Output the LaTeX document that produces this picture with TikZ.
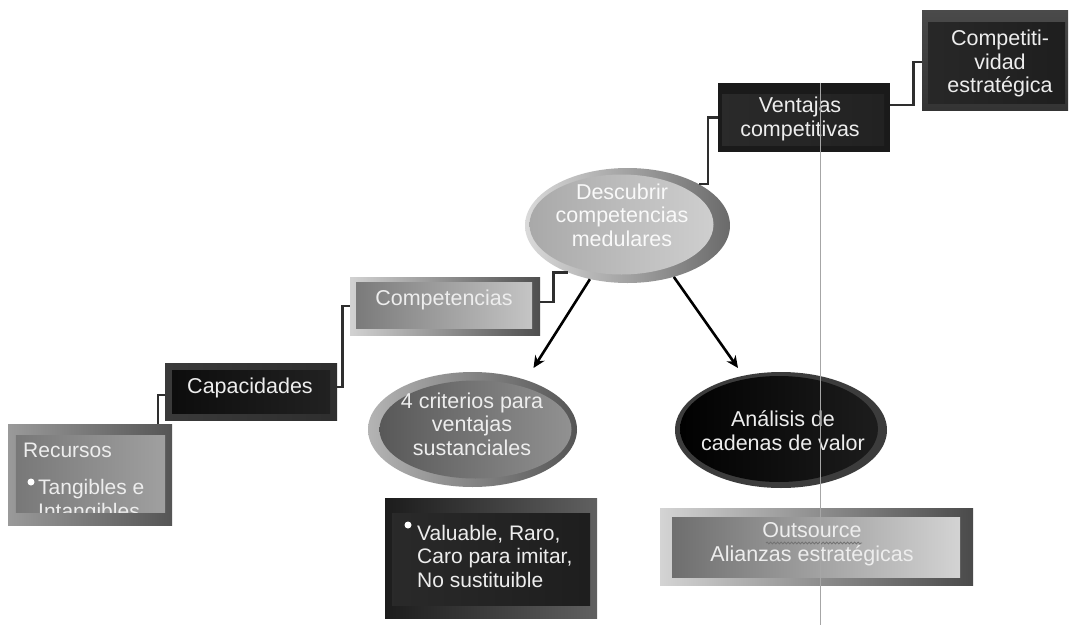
\documentclass[tikz,border=0pt]{standalone}
\usepackage{fontspec}
\setmainfont{Liberation Sans}
\usetikzlibrary{arrows.meta,shapes.geometric,decorations.pathmorphing}
\definecolor{txtc}{HTML}{EDEDED}
\definecolor{recFL}{HTML}{9A9A9A}\definecolor{recFR}{HTML}{555555}
\definecolor{recIL}{HTML}{787878}\definecolor{recIR}{HTML}{A0A0A0}
\definecolor{capF}{HTML}{3A3A3A}\definecolor{capI}{HTML}{222222}
\definecolor{comFL}{HTML}{D2D2D2}\definecolor{comFR}{HTML}{4E4E4E}
\definecolor{comIL}{HTML}{787878}\definecolor{comIR}{HTML}{C8C8C8}
\definecolor{desRL}{HTML}{DADADA}\definecolor{desRR}{HTML}{6A6A6A}
\definecolor{desIL}{HTML}{A8A8A8}\definecolor{desIR}{HTML}{D2D2D2}
\definecolor{venF}{HTML}{1A1A1A}\definecolor{venI}{HTML}{2A2A2A}
\definecolor{ctF}{HTML}{4A4A4A}\definecolor{ctI}{HTML}{282828}
\definecolor{criRL}{HTML}{B4B4B4}\definecolor{criRR}{HTML}{555555}
\definecolor{criIL}{HTML}{555555}\definecolor{criIR}{HTML}{939393}
\definecolor{valF}{HTML}{1C1C1C}\definecolor{valI}{HTML}{2A2A2A}
\definecolor{anaR}{HTML}{3C3C3C}\definecolor{anaI}{HTML}{1E1E1E}
\definecolor{outFL}{HTML}{D4D4D4}\definecolor{outFR}{HTML}{4A4A4A}
\definecolor{outIL}{HTML}{6A6A6A}\definecolor{outIR}{HTML}{D8D8D8}
\tikzset{
  txt/.style={text=txtc, font=\fontsize{21.5}{23.5}\selectfont, align=center, inner sep=0pt},
  txtl/.style={text=txtc, font=\fontsize{21}{23}\selectfont, inner sep=0pt},
  txts/.style={text=txtc, font=\fontsize{21}{23}\selectfont, inner sep=0pt},
  framebox/.style={rectangle, inner sep=0pt, draw=none},
  oval/.style={ellipse, inner sep=0pt, draw=none},
  conn/.style={line width=2.6pt, draw=black!82, line join=miter},
  arr/.style={line width=2.6pt, draw=black, -{Stealth[length=12pt,width=11pt]}},
  bul/.style={circle, fill=white, inner sep=0pt, minimum size=7pt},
}
\begin{document}
\begin{tikzpicture}[x=1pt,y=-1pt]
\useasboundingbox (0,0) rectangle (1072,627);
\fill[white] (0,0) rectangle (1072,627);

% Recursos
\node[framebox, minimum width=164pt, minimum height=101pt, left color=recFL, right color=recFR] (rec) at (90,474.5) {};
\begin{scope}
\clip ([shift={(8pt,-12pt)}]rec.north west) rectangle ([shift={(-7pt,13pt)}]rec.south east);
\shade[left color=recIL, right color=recIR] ([shift={(8pt,-12pt)}]rec.north west) rectangle ([shift={(-7pt,13pt)}]rec.south east);
\node[txtl, anchor=base west] (rect1) at (23,457) {Recursos};
\node[bul] (recb) at (31,482) {};
\node[txtl, anchor=base west] (rect2) at (38,494) {Tangibles e};
\node[txtl, anchor=base west] (rect3) at (38,518) {Intangibles};
\end{scope}

% Capacidades
\node[framebox, minimum width=172pt, minimum height=57pt, left color=capF, right color=capF!80!black,
  path picture={\shade[left color=capI!110, right color=capI] ([shift={(7pt,-7pt)}]path picture bounding box.north west) rectangle ([shift={(-7pt,7pt)}]path picture bounding box.south east);}] (cap) at (251,391.5) {};
\node[txt] (capt) at (250,388) {Capacidades};

% Competencias
\node[framebox, minimum width=190pt, minimum height=58pt, left color=comFL, right color=comFR,
  path picture={\shade[left color=comIL, right color=comIR] ([shift={(6pt,-5pt)}]path picture bounding box.north west) rectangle ([shift={(-8pt,7pt)}]path picture bounding box.south east);}] (comp) at (445,306) {};
\node[txt] (compt) at (444,300) {Competencias};

% Descubrir
\node[oval, minimum width=205pt, minimum height=115pt, left color=desRL, right color=desRR,
  path picture={\shade[left color=desIL, right color=desIR] ([shift={(-6pt,1pt)}]path picture bounding box.center) ellipse [x radius=92pt, y radius=50pt];}] (desc) at (627.5,225.5) {};
\node[txt, text=white!95!gray] (desct) at (622,215) {Descubrir\\competencias\\medulares};

% Ventajas competitivas
\node[framebox, minimum width=172pt, minimum height=69pt, fill=venF,
  path picture={\shade[left color=venI, right color=venI!80!black] ([shift={(4pt,-11pt)}]path picture bounding box.north west) rectangle ([shift={(-6pt,7pt)}]path picture bounding box.south east);}] (vent) at (804,117.5) {};
\node[txt] (ventt) at (800,119) {Ventajas\\competitivas};

% Competitividad estrategica
\node[framebox, minimum width=146pt, minimum height=100pt, top color=ctF, bottom color=ctF!70!black,
  path picture={\shade[left color=ctI, right color=ctI!75!black] ([shift={(6pt,-12pt)}]path picture bounding box.north west) rectangle ([shift={(-3pt,7pt)}]path picture bounding box.south east);}] (ct) at (995,60) {};
\node[txt] (ctt) at (1000,63.5) {Competiti-\\vidad\\estratégica};

% 4 criterios
\node[oval, minimum width=209pt, minimum height=115pt, left color=criRL, right color=criRR,
  path picture={\shade[left color=criIL, right color=criIR] ([shift={(3pt,0pt)}]path picture bounding box.center) ellipse [x radius=96pt, y radius=49pt];}] (crit) at (472.5,429.5) {};
\node[txt] (critt) at (472,424) {4 criterios para\\ventajas\\sustanciales};

% Valuable box
\node[framebox, minimum width=212pt, minimum height=120pt, left color=valF, right color=valF!70!white,
  path picture={\shade[left color=valI, right color=valI!70!black] ([shift={(7pt,-15pt)}]path picture bounding box.north west) rectangle ([shift={(-7pt,13pt)}]path picture bounding box.south east);}] (val) at (491,558) {};
\node[bul] (valb) at (408,525) {};
\node[txts, anchor=base west] (val1) at (417,540) {Valuable, Raro,};
\node[txts, anchor=base west] (val2) at (417,563.5) {Caro para imitar,};
\node[txts, anchor=base west] (val3) at (417,587) {No sustituible};

% Analisis
\node[oval, minimum width=212pt, minimum height=116pt, fill=anaR,
  path picture={\shade[left color=anaI!120, right color=anaI] ([shift={(-2pt,1pt)}]path picture bounding box.center) ellipse [x radius=99pt, y radius=53pt];}] (ana) at (781,430) {};
\node[txt] (anat) at (783,430.5) {Análisis de\\cadenas de valor};

% Outsource
\node[framebox, minimum width=313pt, minimum height=77pt, left color=outFL, right color=outFR,
  path picture={\shade[left color=outIL, right color=outIR] ([shift={(12pt,-9pt)}]path picture bounding box.north west) rectangle ([shift={(-13pt,8pt)}]path picture bounding box.south east);}] (outs) at (816.5,546.5) {};
\node[txt] (outst) at (812,544) {Outsource\\Alianzas estratégicas};
\draw[black!55, line width=0.8pt, decorate, decoration={snake, amplitude=1pt, segment length=3.5pt}]
  ([shift={(-46pt,1pt)}]outst.center) -- ([shift={(50pt,1pt)}]outst.center);

% thin vertical line
\draw[gray!70, line width=1pt] ([xshift=16pt]vent.north) -- ([xshift=16pt]vent.north |- 0,625);

% connectors
\draw[conn] ([xshift=150pt]rec.north west) |- ([yshift=-3.5pt]cap.west);
\draw[conn] ([yshift=4.5pt]cap.east) -- ++(5pt,0) |- (comp.west);
\draw[conn] ([yshift=4pt]comp.east) -- ++(13pt,0) |- (desc.218);
\draw[conn] (desc.30) -- ++(9pt,0) |- (vent.west);
\draw[conn] ([yshift=12.5pt]vent.east) -- ++(23pt,0) |- ([yshift=-2pt]ct.west);

% arrows
\draw[arr] (desc.235) -- ([shift={(61pt,61.5pt)}]crit.center);
\draw[arr] (desc.312) -- ([shift={(-43pt,62pt)}]ana.center);
\end{tikzpicture}
\end{document}
